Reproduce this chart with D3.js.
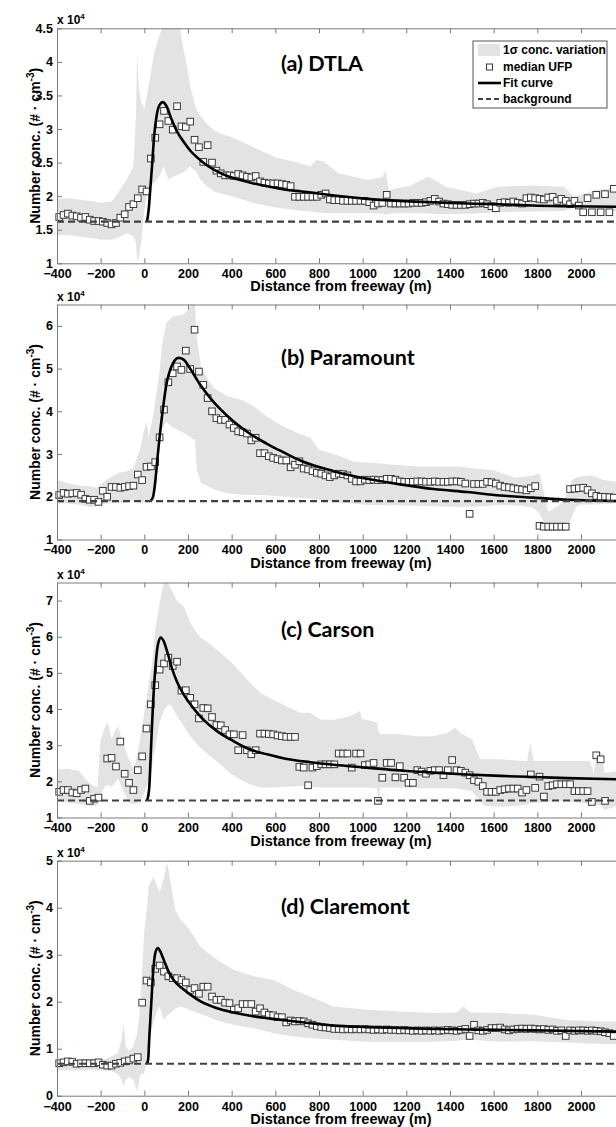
<!DOCTYPE html>
<html>
<head>
<meta charset="utf-8">
<script src="https://cdn.jsdelivr.net/npm/d3@7"></script>
<style>
  body { margin: 0; background: #fff; }
  text { font-family: "Liberation Sans", Arial, sans-serif; font-weight: bold; }
</style>
</head>
<body>
<svg width="616" height="1127"></svg>
<script>
// distance of each median point from the freeway (m), 20 m bins
const distance = d3.range(-390, 2151, 20);

// background level for each site (x 10^4 #/cm3)
const background = [1.62, 1.90, 1.47, 0.68];

// median UFP per bin, x 10^4
const medianDTLA = [
  1.69, 1.72, 1.74, 1.71, 1.70, 1.68, 1.69, 1.65, 1.63, 1.63,
  1.62, 1.60, 1.58, 1.60, 1.68, 1.73, 1.84, 1.88, 1.97, 2.10,
  2.07, 2.56, 2.87, 3.07, 3.27, 3.12, 2.99, 3.34, 3.04, 3.03,
  3.11, 2.84, 2.73, 2.51, 2.76, 2.50, 2.38, 2.34, 2.31, 2.31,
  2.30, 2.33, 2.31, 2.29, 2.28, 2.30, 2.22, 2.20, 2.19, 2.19,
  2.19, 2.18, 2.17, 2.15, 1.99, 1.99, 1.99, 1.99, 1.99,
  1.99, 2.02, 2.04, 1.95, 1.94, 1.94, 1.93, 1.93, 1.93, 1.93,
  1.93, 1.93, 1.91, 1.86, 1.89, 1.90, 2.02, 1.89, 1.89, 1.89,
  1.89, 1.89, 1.90, 1.90, 1.90, 1.91, 1.93, 1.96, 1.92, 1.89,
  1.88, 1.87, 1.87, 1.87, 1.87, 1.88, 1.89, 1.89, 1.90, 1.88,
  1.85, 1.82, 1.90, 1.91, 1.90, 1.92, 1.90, 1.89, 1.97, 1.98,
  1.97, 1.96, 1.95, 1.98, 1.99, 1.93, 1.96, 1.93, 1.88, 1.93,
  1.86, 1.76, 1.97, 1.76, 2.02, 1.76, 2.03, 1.76, 2.11
];
const medianParamount = [
  2.04, 2.09, 2.07, 2.08, 2.09, 2.05, 1.95, 1.93, 1.93, 1.88,
  2.14, 2.00, 2.23, 2.23, 2.21, 2.23, 2.25, 2.26, 2.52, 2.39,
  2.70, 2.71, 2.81, 3.39, 4.04, 4.68, 4.89, 5.05, 4.97, 5.42,
  4.99, 5.91, 4.93, 4.62, 4.31, 4.00, 3.84, 3.80, 3.80, 3.69,
  3.61, 3.53, 3.51, 3.48, 3.32, 3.38, 3.02, 3.02, 2.95, 2.91,
  2.88, 2.85, 2.85, 2.69, 2.75, 2.83, 2.66, 2.64,
  2.60, 2.56, 2.54, 2.50, 2.46, 2.50, 2.54, 2.53, 2.50, 2.42,
  2.36, 2.36, 2.40, 2.39, 2.40, 2.39, 2.39, 2.42, 2.42, 2.40,
  2.36, 2.35, 2.35, 2.35, 2.36, 2.36, 2.35, 2.35, 2.36, 2.35,
  2.35, 2.35, 2.36, 2.36, 2.35, 2.31, 1.60, 2.30, 2.30, 2.30,
  2.35, 2.34, 2.31, 2.26, 2.23, 2.22, 2.20, 2.18, 2.17, 2.15,
  2.20, 2.25, 1.32, 1.30, 1.30, 1.30, 1.30, 1.30, 1.30, 2.18,
  2.19, 2.20, 2.21, 2.16, 2.08, 2.02, 2.00, 2.00, 1.99, 1.98
];
const medianCarson = [
  1.71, 1.76, 1.76, 1.69, 1.67, 1.76, 1.80, 1.46, 1.52, 1.55,
  null, 2.63, 2.65, 2.41, 3.10, 2.21, 1.96, 1.76, 2.31, 2.69,
  3.46, 4.13, 4.66, 5.09, 5.26, 5.42, 5.19, 5.31, 4.51, 4.52,
  4.31, 4.13, 3.74, 4.03, 4.02, 3.78, 3.56, 3.55, 3.42, 3.30,
  3.30, 2.86, 3.28, 2.86, 2.75, 2.86, 3.32, 3.32, 3.31, 3.30,
  3.27, 3.25, 3.23, 3.23, 3.23,
  2.40, 2.38, 1.89, 2.38, 2.42, 2.47, 2.47, 2.47, 2.47, 2.77,
  2.77, 2.77, 2.38, 2.77, 2.77, 2.45, 2.47, 2.51, 1.46, 2.10,
  2.51, 2.51, 2.11, 2.42, 2.10, 1.96, 1.96, 2.31, 2.27, 2.21,
  2.29, 2.31, 2.31, 2.17, 2.31, 2.59, 2.31, 2.29, 2.24, 2.17,
  2.03, 1.99, 1.87, 1.71, 1.71, 1.71, 1.76, 1.78, 1.80, 1.80,
  1.80, 1.69, 1.76, 2.19, 1.82, 2.13, 1.58, 1.87, 1.89, 1.92,
  1.92, 1.92, 1.92, 1.73, 1.73, 1.73, 1.73, 1.43, 2.72, 2.61,
  1.46, null, null
];
const medianClaremont = [
  0.69, 0.71, 0.73, 0.72, 0.68, 0.69, 0.69, 0.69, 0.69, 0.71,
  0.66, 0.64, 0.64, 0.68, 0.70, 0.73, 0.75, 0.79, 0.82, 1.98,
  2.45, 2.41, 2.70, 2.77, 2.64, 2.54, 2.50, 2.50, 2.46, 2.41,
  2.25, 2.29, 2.17, 2.32, 2.32, 2.11, 2.04, 2.04, 1.98, 1.97,
  1.83, 1.86, 1.95, 1.95, 1.95, 1.79, 1.86, 1.77, 1.72, 1.71,
  1.67, 1.67, 1.56, 1.60, 1.58, 1.59, 1.58, 1.54,
  1.51, 1.48, 1.46, 1.45, 1.44, 1.42, 1.42, 1.41, 1.42, 1.41,
  1.42, 1.41, 1.42, 1.41, 1.40, 1.41, 1.40, 1.41, 1.40, 1.40,
  1.39, 1.40, 1.39, 1.38, 1.39, 1.38, 1.39, 1.38, 1.39, 1.38,
  1.39, 1.40, 1.39, 1.38, 1.40, 1.42, 1.27, 1.51, 1.39, 1.38,
  1.40, 1.44, 1.44, 1.45, 1.41, 1.39, 1.41, 1.42, 1.43, 1.42,
  1.43, 1.42, 1.41, 1.42, 1.40, 1.41, 1.38, 1.39, 1.27, 1.39,
  1.38, 1.39, 1.39, 1.38, 1.39, 1.38, 1.37, 1.35, 1.33, 1.27
];

// fit curve: [distance, conc]
const fitDTLA = [[12,1.62],[20,1.80],[26,2.05],[35,2.44],[46,2.93],[58,3.23],[70,3.36],[85,3.40],
  [100,3.35],[125,3.14],[150,2.96],[180,2.81],[210,2.68],[255,2.54],[320,2.39],[380,2.30],[440,2.24],
  [500,2.19],[560,2.15],[640,2.10],[720,2.07],[800,2.04],[870,2.01],[1020,1.96],[1170,1.93],
  [1320,1.91],[1480,1.89],[1630,1.88],[1780,1.86],[1940,1.85],[2200,1.84]];
const fitParamount = [[28,1.90],[40,2.00],[50,2.35],[60,2.90],[70,3.40],[80,3.85],[90,4.25],[100,4.60],
  [111,4.85],[131,5.12],[157,5.25],[180,5.21],[211,4.99],[256,4.62],[302,4.31],[348,4.05],[409,3.76],
  [485,3.47],[562,3.24],[638,3.04],[714,2.85],[867,2.60],[1020,2.42],[1172,2.29],[1326,2.18],
  [1478,2.11],[1630,2.03],[1783,1.98],[1936,1.93],[2200,1.90]];
const fitCarson = [[12,1.47],[18,1.60],[23,1.87],[31,2.97],[40,4.17],[50,5.09],[61,5.74],[75,5.98],
  [89,5.87],[104,5.60],[127,5.12],[150,4.75],[172,4.49],[211,4.13],[256,3.80],[333,3.39],[409,3.11],
  [485,2.88],[562,2.75],[653,2.62],[760,2.53],[867,2.46],[1020,2.38],[1173,2.30],[1325,2.24],
  [1478,2.19],[1630,2.15],[1783,2.12],[1936,2.09],[2200,2.05]];
const fitClaremont = [[12,0.68],[18,0.80],[23,1.26],[31,1.90],[40,2.61],[50,3.03],[62,3.14],[73,3.07],
  [89,2.89],[111,2.64],[134,2.46],[172,2.29],[211,2.15],[256,2.01],[333,1.86],[409,1.77],[485,1.70],
  [562,1.65],[653,1.60],[760,1.54],[867,1.49],[1020,1.46],[1173,1.44],[1325,1.42],[1478,1.41],
  [1630,1.40],[1783,1.39],[1936,1.38],[2200,1.36]];

// 1 sigma band: [distance, low, high]
const bandDTLA = [[-400,1.42,1.96],[-350,1.42,1.97],[-300,1.40,1.95],[-250,1.38,1.93],[-200,1.35,1.90],
  [-150,1.35,1.92],[-120,1.38,2.05],[-80,1.45,2.25],[-50,1.40,2.45],[-38,1.30,3.20],[-33,1.02,4.15],
  [-25,1.10,3.60],[-15,1.30,3.40],[0,1.80,3.30],[15,2.10,3.55],[46,2.20,4.15],[70,2.30,4.40],
  [88,2.45,4.55],[110,2.25,4.70],[140,2.30,4.70],[160,2.33,4.60],[175,2.35,4.25],[195,2.40,3.95],
  [210,2.45,3.63],[240,2.35,3.28],[255,2.25,3.20],[285,2.15,3.08],[320,2.07,2.98],[350,2.04,2.93],
  [400,2.00,2.88],[500,1.90,2.73],[600,1.83,2.58],[700,1.79,2.50],[760,1.77,2.44],[790,1.76,2.54],
  [820,1.75,2.52],[890,1.75,2.34],[1020,1.75,2.24],[1090,1.74,2.28],[1105,1.72,2.38],[1120,1.74,2.09],
  [1220,1.75,2.16],[1300,1.74,2.29],[1340,1.73,2.22],[1380,1.73,2.14],[1520,1.74,2.04],[1615,1.76,2.14],
  [1770,1.77,2.16],[1920,1.78,2.14],[1970,1.84,1.99],[2000,1.86,2.02],[2070,1.80,2.09],[2200,1.76,2.14]];
const bandParamount = [[-400,1.86,2.39],[-350,1.84,2.32],[-300,1.82,2.26],[-250,1.76,2.25],[-220,1.78,2.21],
  [-200,1.82,2.29],[-160,1.85,2.44],[-120,1.86,2.56],[-80,1.86,2.60],[-50,1.93,2.67],[-20,1.90,3.10],
  [0,1.86,3.57],[10,1.88,3.76],[20,1.90,3.41],[40,1.95,3.88],[55,2.30,4.40],[70,3.20,4.95],
  [80,3.55,5.52],[100,3.75,6.06],[130,3.62,6.22],[180,3.50,6.26],[210,3.40,6.45],[222,3.35,6.70],
  [232,3.34,6.50],[240,2.64,5.75],[260,2.32,5.05],[290,2.25,4.74],[320,2.17,4.54],[380,2.08,4.35],
  [450,2.05,4.26],[500,2.05,4.12],[560,2.03,3.88],[620,2.01,3.69],[700,1.98,3.49],[760,1.96,3.38],
  [800,1.93,3.10],[900,1.86,2.95],[950,1.84,2.83],[1000,1.82,2.81],[1050,1.81,2.79],[1150,1.80,2.75],
  [1250,1.79,2.71],[1350,1.77,2.71],[1450,1.76,2.71],[1500,1.77,2.67],[1560,1.78,2.64],[1600,1.80,2.62],
  [1700,1.80,2.44],[1780,1.75,2.50],[1810,1.60,2.55],[1830,1.40,2.10],[1850,1.25,1.65],[1900,1.25,1.80],
  [1940,1.30,2.10],[1960,1.55,2.40],[1980,1.78,2.45],[2000,1.82,2.48],[2050,1.82,2.50],[2100,1.83,2.40],
  [2200,1.86,2.32]];
const bandCarson = [[-400,1.46,2.33],[-350,1.41,2.35],[-300,1.37,2.29],[-270,1.35,2.06],[-240,1.32,1.90],
  [-215,1.33,1.83],[-200,1.60,3.16],[-180,1.87,3.50],[-168,1.90,3.65],[-150,1.85,3.16],[-135,1.95,3.40],
  [-120,2.06,3.53],[-100,1.78,3.07],[-70,1.41,2.61],[-50,1.37,2.33],[-30,1.40,2.79],[-10,1.55,3.53],
  [0,1.69,3.90],[12,1.87,4.36],[23,2.06,4.80],[35,2.42,5.19],[50,2.97,6.20],[70,3.62,6.93],
  [89,3.95,7.49],[104,4.08,7.55],[120,4.13,7.35],[150,3.80,6.98],[180,3.53,6.84],[211,3.25,6.38],
  [250,2.97,6.01],[300,2.70,5.80],[333,2.55,5.64],[400,2.19,5.28],[470,1.95,4.82],[530,1.83,4.45],
  [590,1.83,4.26],[650,1.85,4.08],[714,1.87,3.90],[760,1.85,3.90],[806,1.83,3.71],[867,1.83,3.70],
  [943,1.83,3.81],[989,1.83,3.95],[995,1.83,3.73],[1043,1.82,3.67],[1066,1.80,3.62],[1073,1.41,3.40],
  [1081,1.83,3.30],[1173,1.83,3.30],[1249,1.81,3.25],[1325,1.81,3.25],[1386,1.81,3.34],[1424,1.80,3.48],
  [1447,1.78,3.34],[1500,1.73,3.16],[1539,1.45,2.61],[1560,1.32,2.61],[1630,1.30,2.61],[1700,1.32,2.58],
  [1753,1.36,2.56],[1768,1.40,3.07],[1783,1.40,2.56],[1900,1.46,2.56],[2000,1.41,2.56],[2040,1.37,2.56],
  [2058,1.35,2.24],[2073,1.35,2.79],[2096,1.33,2.79],[2107,1.20,2.24],[2200,1.41,2.30]];
const bandClaremont = [[-400,0.54,0.75],[-300,0.54,0.76],[-200,0.55,0.74],[-150,0.52,0.84],[-120,0.45,0.91],
  [-105,0.35,1.20],[-95,0.20,1.51],[-85,0.35,1.05],[-70,0.40,0.95],[-50,0.34,1.05],[-34,0.09,1.30],
  [-25,0.30,1.61],[-18,0.45,1.97],[0,0.48,3.53],[12,0.91,4.00],[20,1.10,4.45],[30,1.33,4.55],
  [43,1.60,4.66],[55,1.76,4.50],[70,1.90,4.34],[89,1.61,4.62],[104,1.70,4.96],[119,1.76,4.59],
  [142,1.85,3.95],[165,1.90,3.75],[196,1.85,3.60],[226,1.79,3.40],[256,1.74,3.17],[287,1.69,3.05],
  [333,1.60,2.89],[409,1.51,2.68],[500,1.44,2.54],[592,1.33,2.46],[684,1.26,2.25],[760,1.23,2.11],
  [867,1.19,1.90],[1020,1.15,1.83],[1173,1.15,1.79],[1325,1.15,1.76],[1432,1.17,1.77],[1462,1.19,1.90],
  [1493,1.19,1.77],[1630,1.15,1.76],[1783,1.16,1.72],[1936,1.13,1.61],[2089,1.10,1.58],[2200,1.10,1.58]];

const titles = ["(a) DTLA", "(b) Paramount", "(c) Carson", "(d) Claremont"];
const yDomains = [[1, 4.5], [1, 6.5], [1, 7.5], [0, 5]];
const yTicks = [d3.range(1, 4.51, 0.5), d3.range(1, 6.1, 1), d3.range(1, 7.1, 1), d3.range(0, 5.1, 1)];
const xTicks = d3.range(-400, 2001, 200);

const panels = [
  { median: medianDTLA, fit: fitDTLA, band: bandDTLA },
  { median: medianParamount, fit: fitParamount, band: bandParamount },
  { median: medianCarson, fit: fitCarson, band: bandCarson },
  { median: medianClaremont, fit: fitClaremont, band: bandClaremont }
];

///////////// layout
const svg = d3.select("svg");
const left = 57, plotH = 235;
const tops = [28.3, 304.5, 582.5, 860.7];
const titleDy = [42.5, 60.5, 54.5, 53];
const bandColor = "#e3e3e3", axisColor = "#7a7a7a";

const x = d3.scaleLinear().domain([-400, 2200]).range([left, left + 2600 * 0.21833]);

panels.forEach((p, i) => {
  const top = tops[i], bottom = top + plotH;
  const y = d3.scaleLinear().domain(yDomains[i]).range([bottom, top]);
  const g = svg.append("g");

  svg.append("clipPath").attr("id", "clip" + i)
    .append("rect").attr("x", left).attr("y", top).attr("width", 616 - left).attr("height", plotH);

  // 1 sigma band
  g.append("path").datum(p.band)
    .attr("clip-path", `url(#clip${i})`)
    .attr("fill", bandColor)
    .attr("d", d3.area().x(d => x(d[0])).y0(d => y(d[1])).y1(d => y(d[2])));

  // site title
  g.append("text")
    .attr("x", 281).attr("y", top + titleDy[i])
    .style("font-family", "Lato, 'Open Sans', sans-serif")
    .style("font-size", "21.5px")
    .text(titles[i]);

  // median squares
  const pts = distance.map((d, k) => [d, p.median[k]]).filter(d => d[1] != null);
  g.append("g").selectAll("rect").data(pts).join("rect")
    .attr("x", d => x(d[0]) - 3.3).attr("y", d => y(d[1]) - 3.3)
    .attr("width", 6.6).attr("height", 6.6)
    .attr("fill", "#fff").attr("stroke", "#3a3a3a").attr("stroke-width", 1);

  // fit curve
  g.append("path").datum(p.fit)
    .attr("clip-path", `url(#clip${i})`)
    .attr("fill", "none").attr("stroke", "#000").attr("stroke-width", 2.6)
    .attr("stroke-linejoin", "round")
    .attr("d", d3.line().x(d => x(d[0])).y(d => y(d[1])).curve(d3.curveMonotoneX));

  // background level
  g.append("line")
    .attr("x1", x(-400)).attr("x2", x(2200))
    .attr("y1", y(background[i])).attr("y2", y(background[i]))
    .attr("stroke", "#404040").attr("stroke-width", 2.2).attr("stroke-dasharray", "7,4");

  // axes, MATLAB style: ticks pointing in, box on top
  const xAxis = g.append("g").attr("transform", `translate(0,${bottom})`)
    .call(d3.axisBottom(x).tickValues(xTicks).tickSize(-5).tickSizeOuter(0).tickPadding(6).tickFormat(d3.format("d")));
  const topAxis = g.append("g").attr("transform", `translate(0,${top})`)
    .call(d3.axisTop(x).tickValues(xTicks).tickSize(-5).tickSizeOuter(0).tickFormat(""));
  const yAxis = g.append("g").attr("transform", `translate(${left},0)`)
    .call(d3.axisLeft(y).tickValues(yTicks[i]).tickSize(-5).tickSizeOuter(0).tickPadding(4).tickFormat(d => d3.format("~g")(d)));

  [xAxis, topAxis, yAxis].forEach(a => {
    a.selectAll(".domain").attr("stroke", axisColor);
    a.selectAll(".tick line").attr("stroke", axisColor);
    a.selectAll(".tick text").attr("fill", "#000")
      .style("font-size", "12.5px").style("font-family", "'Liberation Sans', Arial, sans-serif").style("font-weight", "bold");
  });

  // x 10^4 multiplier
  const mult = g.append("text").attr("x", left).attr("y", top - 4).style("font-size", "12px");
  mult.append("tspan").text("x 10");
  mult.append("tspan").attr("dy", -5).style("font-size", "8px").text("4");

  // axis titles
  g.append("text")
    .attr("x", (x.range()[0] + x.range()[1]) / 2).attr("y", bottom + 28)
    .attr("text-anchor", "middle").style("font-size", "14.5px")
    .text("Distance from freeway (m)");

  const yl = g.append("text")
    .attr("transform", `translate(40,${(top + bottom) / 2}) rotate(-90)`)
    .attr("text-anchor", "middle").style("font-size", "14px");
  yl.append("tspan").text("Number conc. (# \u00b7 cm");
  yl.append("tspan").attr("dy", -6).style("font-size", "10px").text("-3");
  yl.append("tspan").attr("dy", 6).text(")");
});

///////////// legend (panel a only)
const lg = svg.append("g").attr("transform", "translate(473,41)");
lg.append("rect").attr("width", 134).attr("height", 67)
  .attr("fill", "#fff").attr("stroke", "#555").attr("stroke-width", 1);
const legendItems = ["1\u03c3 conc. variation", "median UFP", "Fit curve", "background"];
const rowY = [9, 26, 42, 58];
lg.append("rect").attr("x", 5).attr("y", rowY[0] - 6).attr("width", 22).attr("height", 12).attr("fill", bandColor);
lg.append("rect").attr("x", 13.5).attr("y", rowY[1] - 3).attr("width", 6).attr("height", 6)
  .attr("fill", "#fff").attr("stroke", "#3a3a3a");
lg.append("line").attr("x1", 5).attr("x2", 28).attr("y1", rowY[2]).attr("y2", rowY[2])
  .attr("stroke", "#000").attr("stroke-width", 2.6);
lg.append("line").attr("x1", 5).attr("x2", 28).attr("y1", rowY[3]).attr("y2", rowY[3])
  .attr("stroke", "#404040").attr("stroke-width", 2.2).attr("stroke-dasharray", "5,3");
lg.selectAll("text.item").data(legendItems).join("text")
  .attr("class", "item")
  .attr("x", 30).attr("y", (d, k) => rowY[k] + 4.3)
  .style("font-size", "12px")
  .text(d => d);
</script>
</body>
</html>
